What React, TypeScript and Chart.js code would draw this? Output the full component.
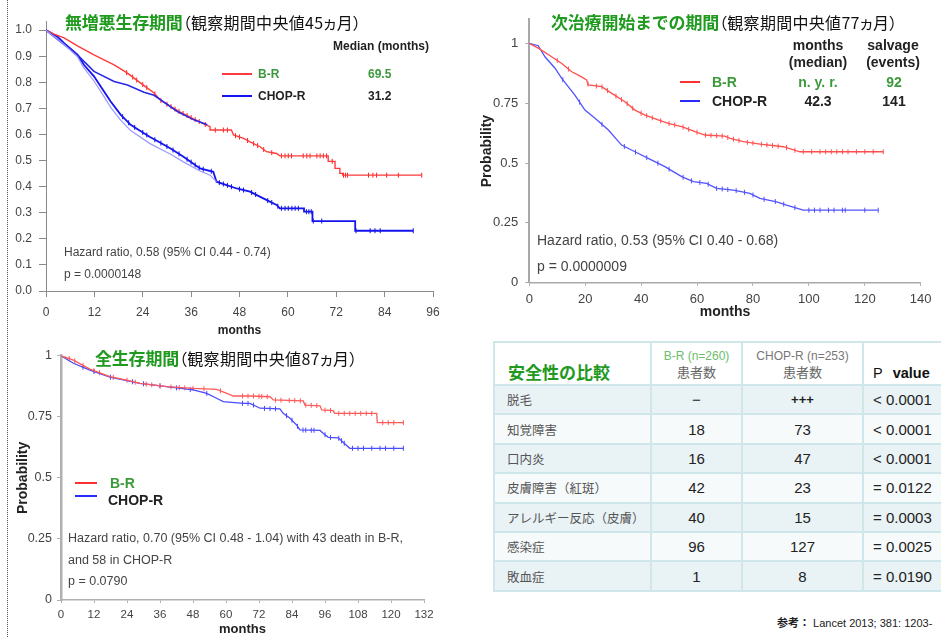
import React, { useEffect, useRef } from "react";
import { Chart, registerables } from "chart.js";

Chart.register(...registerables);

// ---------- Chart 1: 無増悪生存期間 ----------
const pfsXTicks = [0, 12, 24, 36, 48, 60, 72, 84, 96];
const pfsYTicks = [0, 0.1, 0.2, 0.3, 0.4, 0.5, 0.6, 0.7, 0.8, 0.9, 1.0];
const pfsBrMonths = [0, 2, 4.5, 7.8, 11.9, 16.9, 20.2, 23.5, 26.8, 28.5, 32.8, 36.7, 39, 40.7, 40.7, 46, 46.5, 49, 50.6, 53.1, 54.7, 57.2, 58, 70, 70, 71.7, 71.7, 72.9, 72.9, 73.6, 73.6, 93.2];
const pfsBrSurv = [1.0, 0.985, 0.97, 0.94, 0.905, 0.867, 0.835, 0.797, 0.759, 0.73, 0.69, 0.659, 0.642, 0.63, 0.617, 0.617, 0.598, 0.585, 0.572, 0.553, 0.534, 0.527, 0.518, 0.518, 0.497, 0.497, 0.47, 0.47, 0.451, 0.451, 0.444, 0.444];
const pfsBrCensor = [20, 21.5, 22.5, 24, 25, 27, 28.5, 30, 31, 32, 33, 34, 35, 36, 37, 38, 39.5, 42, 44, 45, 47, 48, 50, 51.5, 52.5, 54, 56, 58.4, 59.3, 60.1, 60.9, 63.8, 64.7, 65.5, 67.2, 68, 68.8, 69.6, 71, 73.8, 74.3, 74.8, 80, 81.1, 82, 84.5, 87.4, 93.2];
const pfsBrOverlayMonths = [0, 4.5, 7.8, 11.9, 16.9, 20.2, 24.3, 26.8, 32.6, 36.7, 40];
const pfsBrOverlaySurv = [1.0, 0.944, 0.905, 0.842, 0.803, 0.79, 0.762, 0.75, 0.688, 0.656, 0.637];
const pfsChopMonths = [0, 2.8, 4.5, 7.8, 9.4, 11.9, 14.4, 16, 18.5, 21, 24.3, 25.8, 27.6, 30.8, 34.1, 38.2, 41.5, 42.3, 44.8, 47.3, 50.6, 53.9, 57.2, 58, 64, 64, 66.1, 66.1, 76.7, 76.7, 91.1];
const pfsChopSurv = [1.0, 0.976, 0.95, 0.906, 0.867, 0.823, 0.765, 0.727, 0.676, 0.637, 0.605, 0.59, 0.575, 0.547, 0.515, 0.47, 0.457, 0.419, 0.406, 0.393, 0.381, 0.355, 0.33, 0.317, 0.317, 0.304, 0.304, 0.268, 0.268, 0.231, 0.231];
const pfsChopAltMonths = [0, 4.5, 7.8, 9.4, 11.9, 14.4, 16, 18.5, 21, 25.8, 30.8, 34.1, 38.2, 40.7, 42.3];
const pfsChopAltSurv = [1.0, 0.945, 0.898, 0.855, 0.805, 0.745, 0.705, 0.655, 0.615, 0.565, 0.525, 0.495, 0.46, 0.444, 0.419];
const pfsChopCensor = [19, 20.5, 22, 24, 25, 27, 28.5, 30, 31.5, 33, 35, 36, 37, 38, 39, 41, 43, 44, 45, 46, 48, 49, 51, 52, 55, 56, 57.5, 58.4, 59.3, 60.1, 61, 61.8, 62.6, 64.6, 65.2, 65.8, 66.3, 68.4, 76.9, 80.4, 81.6, 82.9, 91.1];

// ---------- Chart 2: 次治療開始までの期間 ----------
const ttntXTicks = [0, 20, 40, 60, 80, 100, 120, 140];
const ttntYTicks = [0, 0.25, 0.5, 0.75, 1];
const ttntBrMonths = [0, 3.2, 8, 11.6, 15.2, 18.7, 20.5, 21.1, 25.9, 29.5, 34.2, 37.8, 41.4, 46.1, 49.7, 54.5, 59.3, 62.8, 69.9, 71.8, 76.6, 82.5, 90.9, 96.8, 126.6];
const ttntBrSurv = [1.0, 0.98, 0.944, 0.916, 0.881, 0.86, 0.847, 0.826, 0.819, 0.791, 0.756, 0.721, 0.7, 0.68, 0.666, 0.652, 0.631, 0.617, 0.612, 0.603, 0.589, 0.579, 0.568, 0.547, 0.547];
const ttntBrCensor = [10, 14, 21, 24, 26, 28, 31, 33, 35, 37, 40, 42, 44, 47, 50, 52, 55, 57, 60, 63, 65, 67, 69, 71, 73, 75, 78, 80, 83, 85, 87, 89, 92, 95, 98, 101, 104, 106, 108, 110, 112, 114, 117, 120, 123, 126.6];
const ttntChopMonths = [0, 3.2, 5.6, 9.2, 11.6, 16.3, 19.9, 23.5, 28.3, 33, 37.8, 43.8, 48.5, 54.5, 58.7, 63.4, 67, 73, 78.9, 82.5, 88.5, 92, 98, 124.8];
const ttntChopSurv = [1.0, 0.99, 0.944, 0.896, 0.854, 0.784, 0.721, 0.687, 0.638, 0.575, 0.547, 0.512, 0.485, 0.443, 0.422, 0.415, 0.394, 0.387, 0.373, 0.352, 0.338, 0.324, 0.303, 0.303];
const ttntChopCensor = [12, 18, 26, 34, 38, 42, 46, 50, 55, 58, 61, 64, 67, 69, 71, 74, 77, 80, 84, 88, 91, 95, 100, 102, 104, 107, 109, 112, 113, 120, 124.8];

// ---------- Chart 3: 全生存期間 ----------
const osXTicks = [0, 12, 24, 36, 48, 60, 72, 84, 96, 108, 120, 132];
const osYTicks = [0, 0.25, 0.5, 0.75, 1];
const osBrMonths = [0, 4.5, 10.5, 17.8, 23.9, 28.7, 38.4, 48.1, 56.6, 60.3, 62.7, 68.7, 76, 77.2, 88.1, 88.7, 94.2, 94.8, 99, 99.5, 114.8, 115, 124.5];
const osBrSurv = [1.0, 0.982, 0.945, 0.914, 0.9, 0.887, 0.873, 0.866, 0.862, 0.846, 0.835, 0.835, 0.832, 0.819, 0.815, 0.798, 0.795, 0.778, 0.775, 0.764, 0.764, 0.726, 0.726];
const osBrCensor = [3, 5, 8, 12, 14, 19, 24, 27, 31, 33, 36, 40, 43, 45, 48, 52, 58, 66, 68, 70, 72, 73, 75, 78, 80, 83, 85, 87, 89, 91, 93, 96, 98, 101, 103, 105, 107, 109, 111, 113, 117, 119, 121, 124.5];
const osChopMonths = [0, 4.5, 10.5, 17.8, 28.7, 38.4, 48.1, 53, 56.6, 59, 66.3, 68.7, 72.4, 79.6, 80.8, 83.3, 85.7, 86.9, 94.2, 95.4, 97.2, 100.8, 105, 124.5];
const osChopSurv = [1.0, 0.969, 0.941, 0.912, 0.887, 0.873, 0.86, 0.846, 0.826, 0.812, 0.805, 0.805, 0.785, 0.782, 0.764, 0.744, 0.716, 0.696, 0.694, 0.682, 0.666, 0.664, 0.621, 0.621];
const osChopCensor = [8, 12, 18, 26, 30, 36, 42, 47, 53, 66, 68, 70, 74, 76, 78, 82, 84, 86, 88, 89, 91, 92, 96, 98, 101, 102, 103, 106, 108, 110, 113, 116, 118, 121, 124.5];

// ---------- Table: 安全性の比較 ----------
const aeNames = ["脱毛", "知覚障害", "口内炎", "皮膚障害（紅斑）", "アレルギー反応（皮膚）", "感染症", "敗血症"];
const aeBR = ["−", "18", "16", "42", "40", "96", "1"];
const aeCHOP = ["+++", "73", "47", "23", "15", "127", "8"];
const aeP = ["< 0.0001", "< 0.0001", "< 0.0001", "= 0.0122", "= 0.0003", "= 0.0025", "= 0.0190"];

const SANS = '"Liberation Sans", Arial, "Noto Sans CJK JP", sans-serif';
const CJK = '"Noto Sans CJK JP", sans-serif';
const GREEN = "#1f9a1f";
const LGREEN = "#3c9a3c";

type Series = { xs: number[]; ys: number[]; color: string; width: number; censor?: number[]; cColor?: string };
type KM = {
  xMax: number; yMax: number; xTicks: number[]; yTicks: number[]; yFmt: (v: number) => string;
  pad: { top: number; right: number; left: number; bottom: number };
  yWidth: number; xHeight: number;
  axisColor: string; yAxisW: number; xAxisW: number; tickColor: string;
  tickSizeX: number; tickSizeY: number; tickLenX: number; tickLenY: number; tickPadX: number; tickPadY: number;
  xTitle: string; xTitleSize: number; xTitlePad: number;
  yTitle?: string; yTitleSize?: number; yTitlePad?: number;
  series: Series[];
};

// position of a censor mark on the drawn curve
function onCurve(xs: number[], ys: number[], t: number): number {
  for (let i = 0; i < xs.length - 1; i++) {
    if (t >= xs[i] && t <= xs[i + 1] && xs[i + 1] > xs[i]) {
      const f = (t - xs[i]) / (xs[i + 1] - xs[i]);
      return ys[i] + f * (ys[i + 1] - ys[i]);
    }
  }
  return ys[ys.length - 1];
}

function buildChart(canvas: HTMLCanvasElement, c: KM) {
  const datasets: any[] = [];
  c.series.forEach((s) => {
    datasets.push({
      data: s.xs.map((x, i) => ({ x, y: s.ys[i] })),
      borderColor: s.color, borderWidth: s.width, pointRadius: 0, tension: 0, fill: false,
    });
  });
  c.series.forEach((s) => {
    if (!s.censor) return;
    datasets.push({
      data: s.censor.map((t) => ({ x: t, y: onCurve(s.xs, s.ys, t) })),
      showLine: false, pointStyle: "line", rotation: 90, pointRadius: 2.5,
      pointBorderColor: s.cColor || s.color, pointBorderWidth: 1, borderColor: s.cColor || s.color,
    });
  });
  return new Chart(canvas, {
    type: "line",
    data: { datasets },
    options: {
      animation: false, responsive: false, devicePixelRatio: 1,
      layout: { padding: c.pad },
      plugins: { legend: { display: false }, tooltip: { enabled: false } },
      scales: {
        x: {
          type: "linear", min: 0, max: c.xMax,
          afterBuildTicks: (s: any) => { s.ticks = c.xTicks.map((v) => ({ value: v })); },
          afterFit: (s: any) => { s.height = c.xHeight; },
          grid: { display: true, drawOnChartArea: false, drawTicks: true, tickLength: c.tickLenX, color: c.axisColor },
          border: { display: true, color: c.axisColor, width: c.xAxisW },
          ticks: { autoSkip: false, maxRotation: 0, padding: c.tickPadX, color: c.tickColor, font: { size: c.tickSizeX, family: SANS }, callback: (v: any) => String(v) },
          title: { display: true, text: c.xTitle, color: "#222", font: { size: c.xTitleSize, weight: "bold", family: SANS }, padding: { top: 0, bottom: c.xTitlePad } },
        },
        y: {
          type: "linear", min: 0, max: c.yMax,
          afterBuildTicks: (s: any) => { s.ticks = c.yTicks.map((v) => ({ value: v })); },
          afterFit: (s: any) => { s.width = c.yWidth; },
          grid: { display: true, drawOnChartArea: false, drawTicks: true, tickLength: c.tickLenY, color: c.axisColor },
          border: { display: true, color: c.axisColor, width: c.yAxisW },
          ticks: { autoSkip: false, padding: c.tickPadY, color: c.tickColor, font: { size: c.tickSizeY, family: SANS }, callback: (v: any) => c.yFmt(Number(v)) },
          title: c.yTitle
            ? { display: true, text: c.yTitle, color: "#222", font: { size: c.yTitleSize, weight: "bold", family: SANS }, padding: { top: c.yTitlePad, bottom: 0 } }
            : { display: false },
        },
      },
    } as any,
  });
}

const pfsCfg: KM = {
  xMax: 96, yMax: 1.035, xTicks: pfsXTicks, yTicks: pfsYTicks, yFmt: (v) => v.toFixed(1),
  pad: { top: 21, right: 37, left: 0, bottom: 0 }, yWidth: 46, xHeight: 49,
  axisColor: "#8a8a8a", yAxisW: 1, xAxisW: 1, tickColor: "#444",
  tickSizeX: 12, tickSizeY: 12, tickLenX: 6, tickLenY: 7, tickPadX: 8, tickPadY: 7,
  xTitle: "months", xTitleSize: 12, xTitlePad: 2,
  series: [
    { xs: pfsChopAltMonths, ys: pfsChopAltSurv, color: "#9a9aff", width: 1.2 },
    { xs: pfsBrOverlayMonths, ys: pfsBrOverlaySurv, color: "#2a2ae6", width: 1.6 },
    { xs: pfsBrMonths, ys: pfsBrSurv, color: "#ff3a3a", width: 1.4, censor: pfsBrCensor, cColor: "#ff2020" },
    { xs: pfsChopMonths, ys: pfsChopSurv, color: "#1414ee", width: 1.8, censor: pfsChopCensor, cColor: "#1010e0" },
  ],
};

const ttntCfg: KM = {
  xMax: 140, yMax: 1.1, xTicks: ttntXTicks, yTicks: ttntYTicks, yFmt: (v) => String(v),
  pad: { top: 19.4, right: 20.3, left: 0, bottom: 0 }, yWidth: 59.3, xHeight: 47.3,
  axisColor: "#a8a8a8", yAxisW: 2, xAxisW: 1.5, tickColor: "#444",
  tickSizeX: 13, tickSizeY: 13, tickLenX: 3, tickLenY: 4, tickPadX: 6, tickPadY: 7,
  xTitle: "months", xTitleSize: 14, xTitlePad: 9,
  yTitle: "Probability", yTitleSize: 14, yTitlePad: 8.3,
  series: [
    { xs: ttntBrMonths, ys: ttntBrSurv, color: "#ff5050", width: 1.3, censor: ttntBrCensor },
    { xs: ttntChopMonths, ys: ttntChopSurv, color: "#5252ff", width: 1.3, censor: ttntChopCensor },
  ],
};

const osCfg: KM = {
  xMax: 132, yMax: 1, xTicks: osXTicks, yTicks: osYTicks, yFmt: (v) => String(v),
  pad: { top: 20.7, right: 46, left: 0, bottom: 0 }, yWidth: 61, xHeight: 37,
  axisColor: "#b0b0b0", yAxisW: 2.5, xAxisW: 1.5, tickColor: "#444",
  tickSizeX: 11.5, tickSizeY: 12.5, tickLenX: 3, tickLenY: 4, tickPadX: 5, tickPadY: 5,
  xTitle: "months", xTitleSize: 13, xTitlePad: 0,
  yTitle: "Probability", yTitleSize: 14, yTitlePad: 14.6,
  series: [
    { xs: osBrMonths, ys: osBrSurv, color: "#ff5a5a", width: 1.3, censor: osBrCensor },
    { xs: osChopMonths, ys: osChopSurv, color: "#4a4aff", width: 1.3, censor: osChopCensor },
  ],
};

function KMCanvas({ cfg, left, top, width, height }: { cfg: KM; left: number; top: number; width: number; height: number }) {
  const ref = useRef<HTMLCanvasElement | null>(null);
  useEffect(() => {
    if (!ref.current) return;
    const ch = buildChart(ref.current, cfg);
    return () => ch.destroy();
  }, [cfg]);
  return (
    <div style={{ position: "absolute", left, top, width, height }}>
      <canvas ref={ref} width={width} height={height} style={{ width, height, display: "block" }} />
    </div>
  );
}

function T({ x, y, children, style, center }: { x: number; y: number; children: React.ReactNode; style?: React.CSSProperties; center?: boolean }) {
  return (
    <div
      style={{
        position: "absolute", left: x, top: y, whiteSpace: "nowrap", lineHeight: 1,
        transform: center ? "translate(-50%, -50%)" : "translateY(-50%)", fontFamily: SANS, ...style,
      }}
    >
      {children}
    </div>
  );
}

function Line({ x, y, w, color, h = 2 }: { x: number; y: number; w: number; color: string; h?: number }) {
  return <div style={{ position: "absolute", left: x, top: y - h / 2, width: w, height: h, background: color }} />;
}

function Title({ x, y, main, sub }: { x: number; y: number; main: string; sub: string }) {
  return (
    <T x={x} y={y} style={{ fontFamily: CJK }}>
      <span style={{ color: GREEN, fontWeight: 700, fontSize: 17, letterSpacing: -0.2 }}>{main}</span>
      <span style={{ color: "#111", fontSize: 16, fontFeatureSettings: '"palt"', letterSpacing: 0.3 }}>{sub}</span>
    </T>
  );
}

const bold12: React.CSSProperties = { fontWeight: 700, fontSize: 12, color: "#222" };
const bold14: React.CSSProperties = { fontWeight: 700, fontSize: 14, color: "#222" };
const note12: React.CSSProperties = { fontSize: 12, color: "#444" };

export default function App() {
  const border = "2px solid #cfe6ea";
  const cell: React.CSSProperties = { border, padding: 0, height: 27.4, fontFamily: SANS };
  return (
    <div style={{ position: "absolute", left: 0, top: 0, width: 941, height: 637, overflow: "hidden", background: "#fff" }}>
      <div style={{ position: "absolute", left: 7, top: 0, height: 637, width: 0, borderLeft: "1px dotted #555" }} />

      {/* Chart 1 */}
      <KMCanvas cfg={pfsCfg} left={0} top={0} width={470} height={340} />
      <Title x={65} y={21} main="無増悪生存期間" sub="（観察期間中央値45ヵ月）" />
      <T x={333} y={46} style={bold12}>Median (months)</T>
      <Line x={222} y={74} w={30} color="#ff3a3a" />
      <T x={258} y={74} style={{ ...bold12, color: LGREEN }}>B-R</T>
      <T x={368} y={74} style={{ ...bold12, color: LGREEN }}>69.5</T>
      <Line x={222} y={96} w={30} color="#1414ee" />
      <T x={258} y={96} style={bold12}>CHOP-R</T>
      <T x={368} y={96} style={bold12}>31.2</T>
      <T x={64} y={252} style={note12}>Hazard ratio, 0.58 (95% CI 0.44 - 0.74)</T>
      <T x={64} y={274} style={note12}>p = 0.0000148</T>

      {/* Chart 2 */}
      <KMCanvas cfg={ttntCfg} left={470} top={0} width={471} height={330} />
      <Title x={551} y={21} main="次治療開始までの期間" sub="（観察期間中央値77ヵ月）" />
      <T x={818} y={45} center style={bold14}>months</T>
      <T x={818} y={62} center style={bold14}>(median)</T>
      <T x={893} y={45} center style={bold14}>salvage</T>
      <T x={893} y={62} center style={bold14}>(events)</T>
      <Line x={680} y={82} w={20} color="#ff3030" h={2.5} />
      <T x={712} y={82} style={{ ...bold14, color: LGREEN }}>B-R</T>
      <T x={818} y={82} center style={{ ...bold14, color: LGREEN }}>n. y. r.</T>
      <T x={894} y={82} center style={{ ...bold14, color: LGREEN }}>92</T>
      <Line x={680} y={101} w={20} color="#2a2aff" h={2.5} />
      <T x={712} y={101} style={bold14}>CHOP-R</T>
      <T x={818} y={101} center style={bold14}>42.3</T>
      <T x={894} y={101} center style={bold14}>141</T>
      <T x={537} y={240} style={{ fontSize: 14, color: "#444" }}>Hazard ratio, 0.53 (95% CI 0.40 - 0.68)</T>
      <T x={537} y={266} style={{ fontSize: 14, color: "#444" }}>p = 0.0000009</T>

      {/* Chart 3 */}
      <KMCanvas cfg={osCfg} left={0} top={335} width={470} height={302} />
      <Title x={95} y={357} main="全生存期間" sub="（観察期間中央値87ヵ月）" />
      <Line x={75} y={483} w={22} color="#ff3030" h={2.5} />
      <T x={110} y={483} style={{ ...bold14, color: LGREEN }}>B-R</T>
      <Line x={75} y={496} w={22} color="#2a2aff" h={2.5} />
      <T x={108} y={500} style={bold14}>CHOP-R</T>
      <T x={68} y={538} style={{ fontSize: 12.5, color: "#444" }}>Hazard ratio, 0.70 (95% CI 0.48 - 1.04) with 43 death in B-R,</T>
      <T x={68} y={560} style={{ fontSize: 12.5, color: "#444" }}>and 58 in CHOP-R</T>
      <T x={68} y={581} style={{ fontSize: 12.5, color: "#444" }}>p = 0.0790</T>

      {/* Table */}
      <table
        style={{
          position: "absolute", left: 493, top: 341, borderCollapse: "collapse", tableLayout: "fixed",
          width: 470, fontFamily: SANS,
        }}
      >
        <colgroup>
          <col style={{ width: 157 }} />
          <col style={{ width: 91 }} />
          <col style={{ width: 121 }} />
          <col style={{ width: 101 }} />
        </colgroup>
        <thead>
          <tr style={{ background: "#fff" }}>
            <th style={{ ...cell, height: 38, textAlign: "left", verticalAlign: "bottom", paddingLeft: 13, paddingBottom: 0, color: GREEN, fontSize: 17, fontWeight: 700, fontFamily: CJK }}>
              安全性の比較
            </th>
            <th style={{ ...cell, height: 38, fontWeight: 400, verticalAlign: "middle", lineHeight: "16px" }}>
              <div style={{ color: "#6cbd6c", fontSize: 12 }}>B-R (n=260)</div>
              <div style={{ color: "#666", fontSize: 13, fontFamily: CJK }}>患者数</div>
            </th>
            <th style={{ ...cell, height: 38, fontWeight: 400, verticalAlign: "middle", lineHeight: "16px" }}>
              <div style={{ color: "#777", fontSize: 12 }}>CHOP-R (n=253)</div>
              <div style={{ color: "#666", fontSize: 13, fontFamily: CJK }}>患者数</div>
            </th>
            <th style={{ ...cell, height: 38, textAlign: "left", verticalAlign: "bottom", paddingLeft: 9, paddingBottom: 3, fontSize: 14.5, color: "#111" }}>
              <span style={{ fontWeight: 400 }}>P</span>
              <span style={{ fontWeight: 700, marginLeft: 10 }}>value</span>
            </th>
          </tr>
        </thead>
        <tbody>
          {aeNames.map((name, i) => (
            <tr key={name} style={{ background: i % 2 === 0 ? "#e9f2f5" : "#f7fafb" }}>
              <td style={{ ...cell, paddingLeft: 12, fontSize: 12.5, color: "#555", fontFamily: CJK }}>{name}</td>
              <td style={{ ...cell, textAlign: "center", fontSize: 15, color: "#222" }}>{aeBR[i]}</td>
              <td style={{ ...cell, textAlign: "center", fontSize: i === 0 ? 13 : 15, fontWeight: i === 0 ? 700 : 400, color: "#222" }}>{aeCHOP[i]}</td>
              <td style={{ ...cell, paddingLeft: 9, fontSize: 15, color: "#222" }}>{aeP[i]}</td>
            </tr>
          ))}
        </tbody>
      </table>

      <T x={777} y={623} style={{ fontSize: 11, color: "#222" }}>
        <span style={{ fontWeight: 700, fontFamily: CJK }}>参考：</span>
        <span> Lancet 2013; 381: 1203-</span>
      </T>
    </div>
  );
}
